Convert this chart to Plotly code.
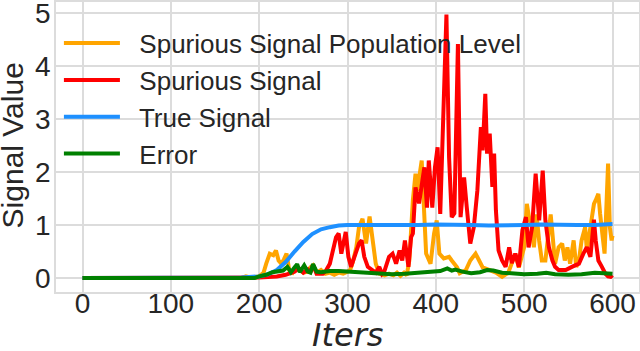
import plotly.graph_objects as go

# Spurious Signal Population Level (orange)
pop_x = [0, 180, 185, 190, 200, 205, 208, 212, 216, 219, 222, 225, 228, 231, 234, 238, 242, 246, 250,
         255, 258, 261, 265, 270, 275, 280, 285, 290, 295, 300, 303, 306, 310, 313, 317, 321, 325, 329,
         332, 336, 342, 347, 352, 356, 360, 364, 367, 370, 374, 377, 379, 384, 387, 389, 394, 398, 401,
         404, 409, 415, 418, 421, 424, 427, 434, 439, 445, 449, 453, 461, 468, 475, 482, 490, 494, 500,
         503, 506, 508, 511, 514, 517, 520, 524, 530, 532, 535, 539, 543, 546, 549, 552, 556, 559, 562,
         565, 569, 571, 575, 579, 581, 584, 586, 588, 591, 595, 597, 599, 600]
pop_y = [0, 0, 0.03, 0.01, 0.03, 0.1, 0.27, 0.46, 0.43, 0.52, 0.33, 0.27, 0.35, 0.46, 0.15, 0.1, 0.2,
         0.14, 0.1, 0.12, 0.2, 0.24, 0.1, 0.15, 0.08, 0.1, 0.06, 0.1, 0.08, 0.12, 0.15, 0.3, 0.58, 0.96,
         1.12, 0.65, 1.16, 0.65, 0.27, 0.08, 0.05, 0.08, 0.05, 0.1, 0.04, 0.1, 0.05, 0.33, 1.47, 1.97,
         1.65, 2.22, 1.15, 0.46, 0.27, 0.84, 1.09, 0.46, 0.37, 0.4, 0.33, 0.27, 0.2, 0.09, 0.15, 0.33,
         0.46, 0.33, 0.2, 0.15, 0.1, 0.02, 0.1, 0.46, 0.2, 0.58, 1.4, 1.1, 1.03, 0.58, 1.2, 0.7, 0.33,
         0.33, 1.2, 0.84, 0.27, 0.58, 0.65, 0.33, 0.58, 0.27, 0.71, 0.21, 0.33, 0.71, 0.96, 0.52, 0.96,
         1.4, 1.47, 1.59, 1.21, 0.84, 0.46, 2.16, 0.96, 0.71, 0.8]

# Spurious Signal (red)
spur_x = [0, 180, 200, 210, 220, 230, 240, 245, 250, 255, 258, 261, 265, 272, 276, 280, 283, 287, 290,
          293, 298, 301, 304, 308, 313, 316, 319, 323, 328, 332, 336, 339, 342, 347, 351, 355, 359, 362,
          365, 369, 372, 374, 377, 381, 387, 390, 392, 396, 399, 402, 405, 408, 412, 415, 418, 421, 425,
          428, 432, 435, 439, 443, 447, 451, 453, 456, 458, 461, 464, 466, 468, 471, 475, 479, 483, 486,
          490, 494, 498, 502, 505, 509, 513, 517, 521, 524, 528, 532, 535, 539, 547, 554, 562, 567, 571,
          575, 579, 581, 584, 588, 592, 595, 598, 600]
spur_y = [0, 0, 0.01, 0.02, 0.03, 0.06, 0.12, 0.18, 0.1, 0.16, 0.1, 0.25, 0.08, 0.08, 0.15, 0.27, 0.46,
          0.77, 0.84, 0.46, 0.87, 0.4, 0.21, 0.4, 0.65, 0.71, 0.4, 0.21, 0.14, 0.1, 0.21, 0.08, 0.14, 0.4,
          0.46, 0.27, 0.52, 0.33, 0.71, 0.21, 0.77, 0.84, 1.71, 1.41, 2.09, 1.33, 2.22, 1.33, 2.09, 2.47,
          1.21, 2.92, 4.98, 2.28, 1.15, 1.22, 4.42, 1.15, 1.9, 1.34, 0.65, 0.96, 1.65, 2.85, 2.41, 3.48,
          2.35, 2.73, 1.72, 2.35, 1.28, 0.52, 0.33, 0.21, 0.58, 0.28, 0.46, 0.21, 0.9, 1.15, 0.58, 0.96,
          1.97, 1.09, 2.03, 1.09, 0.58, 0.33, 0.21, 0.15, 0.15, 0.21, 0.27, 0.46, 0.58, 0.4, 1.1, 0.71,
          0.33, 0.21, 0.08, 0.03, 0.02, 0.05]

# True Signal (blue)
true_x = [0, 150, 180, 200, 210, 220, 230, 240, 250, 260, 270, 280, 290, 300, 320, 340, 360, 380, 400,
          420, 440, 460, 480, 500, 520, 540, 560, 580, 600]
true_y = [0, 0, 0.01, 0.03, 0.07, 0.15, 0.3, 0.5, 0.68, 0.83, 0.92, 0.96, 0.99, 1.0, 1.0, 0.99, 1.0, 1.0,
          1.01, 1.01, 1.0, 0.99, 0.99, 1.0, 1.01, 1.0, 1.0, 1.0, 1.02]

# Error (green)
err_x = [0, 195, 200, 208, 215, 222, 227, 232, 236, 240, 243, 246, 251, 255, 258, 261, 265, 270, 280,
         290, 300, 310, 320, 335, 350, 365, 380, 395, 405, 413, 418, 422, 430, 440, 450, 458, 465, 475,
         490, 500, 515, 525, 535, 550, 565, 580, 590, 600]
err_y = [0, 0, 0.03, 0.06, 0.11, 0.12, 0.14, 0.21, 0.11, 0.2, 0.26, 0.11, 0.24, 0.12, 0.1, 0.26, 0.12,
         0.11, 0.13, 0.13, 0.12, 0.1, 0.09, 0.08, 0.07, 0.08, 0.1, 0.11, 0.13, 0.18, 0.14, 0.16, 0.12,
         0.09, 0.11, 0.15, 0.14, 0.1, 0.09, 0.07, 0.08, 0.1, 0.07, 0.06, 0.07, 0.1, 0.09, 0.08]

x_ticks = [0, 100, 200, 300, 400, 500, 600]
y_ticks = [0, 1, 2, 3, 4, 5]

fig = go.Figure()
fig.add_trace(go.Scatter(x=pop_x, y=pop_y, mode='lines', name='  Spurious Signal Population Level',
                         line=dict(color='#FFA500', width=4)))
fig.add_trace(go.Scatter(x=spur_x, y=spur_y, mode='lines', name='  Spurious Signal',
                         line=dict(color='#FF0000', width=4)))
fig.add_trace(go.Scatter(x=true_x, y=true_y, mode='lines', name='  True Signal',
                         line=dict(color='#1E90FF', width=4)))
fig.add_trace(go.Scatter(x=err_x, y=err_y, mode='lines', name='  Error',
                         line=dict(color='#008000', width=4)))

grid = '#dcdcdc'
fig.update_layout(
    width=640, height=351,
    margin=dict(l=56, r=1, t=2, b=59),
    paper_bgcolor='white', plot_bgcolor='white',
    font=dict(family='Liberation Sans, Arial, sans-serif', color='#262626'),
    legend=dict(x=0.005, y=0.939, xanchor='left', yanchor='top', bgcolor='rgba(0,0,0,0)',
                font=dict(size=26), itemwidth=56, tracegroupgap=0),
    xaxis=dict(range=[-30, 630], tickvals=x_ticks, showgrid=True, gridcolor=grid, gridwidth=1.5,
               zeroline=False, showline=True, linecolor=grid, linewidth=1.5, mirror=True,
               tickfont=dict(size=28), ticks='', ticklabelstandoff=-14, automargin=False,
               ticklabeloverflow='allow'),
    yaxis=dict(range=[-0.265, 5.215], tickvals=y_ticks, showgrid=True, gridcolor=grid, gridwidth=1.5,
               zeroline=False, showline=True, linecolor=grid, linewidth=1.5, mirror=True,
               tickfont=dict(size=28), ticks='', ticklabelstandoff=-2, automargin=False,
               ticklabeloverflow='allow'),
)

# axis titles as annotations so they can sit where the original puts them
fig.add_annotation(text='<i>Iters</i>', xref='paper', yref='paper', x=0.5, y=-0.149,
                   xanchor='center', yanchor='middle', showarrow=False, borderpad=0,
                   font=dict(family='DejaVu Sans', size=32, color='#262626'))
fig.add_annotation(text='Signal Value', xref='paper', yref='paper', x=-0.073, y=0.507,
                   xanchor='center', yanchor='middle', showarrow=False, textangle=-90, borderpad=0,
                   font=dict(size=30, color='#262626'))

# page has a default 8px body margin; drop it so the figure sits at the window corner
fig.write_html("out.html", config={'displayModeBar': False},
               post_script="document.body.style.margin='0';")
